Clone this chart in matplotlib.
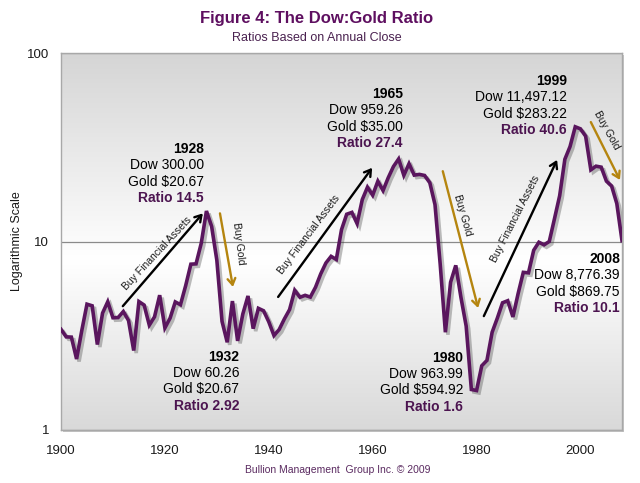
import numpy as np
import matplotlib
matplotlib.use('Agg')
import matplotlib.pyplot as plt
import matplotlib.patheffects as pe
from matplotlib.patches import Rectangle

plt.rcParams['font.family'] = ['Liberation Sans', 'DejaVu Sans']

# ---------------- data ----------------
years = list(range(1900, 2009))
ratio = [
    3.42, 3.12, 3.11, 2.38, 3.37, 4.65, 4.56, 2.84, 4.17, 4.79,   # 1900s
    3.94, 3.95, 4.25, 3.81, 2.64, 4.80, 4.60, 3.60, 3.98, 5.19,   # 1910s
    3.48, 3.92, 4.78, 4.62, 5.83, 7.58, 7.61, 9.79, 14.51, 12.02, # 1920s
    7.96, 3.77, 2.92, 4.83, 2.97, 4.12, 5.14, 3.45, 4.42, 4.29,   # 1930s
    3.75, 3.17, 3.41, 3.88, 4.35, 5.51, 5.06, 5.18, 5.07, 5.72,   # 1940s
    6.73, 7.69, 8.34, 8.03, 11.55, 13.95, 14.27, 12.45, 16.68, 19.41,  # 1950s
    17.60, 20.89, 18.63, 21.80, 24.98, 27.41, 22.45, 25.86, 22.5, 22.7, # 1960s
    22.4, 20.5, 15.7, 7.58, 3.30, 6.08, 7.47, 5.04, 3.56, 1.64,   # 1970s
    1.62, 2.19, 2.34, 3.30, 3.92, 4.73, 4.85, 3.98, 5.29, 6.86,   # 1980s
    6.82, 8.98, 9.91, 9.60, 10.0, 13.2, 17.5, 27.3, 31.9, 40.6,   # 1990s
    39.6, 36.2, 24.0, 25.1, 24.8, 20.9, 19.7, 15.9, 10.1,         # 2000s
]

x_ticks = [1900, 1920, 1940, 1960, 1980, 2000]
y_ticks = [1, 10, 100]
y_tick_labels = ['1', '10', '100']

title = 'Figure 4: The Dow:Gold Ratio'
subtitle = 'Ratios Based on Annual Close'
footer = 'Bullion Management  Group Inc. \u00a9 2009'
ylabel = 'Logarithmic Scale'

# annotation blocks: (anchor year, anchor value, lines)
blocks = [
    (1927.5, 30.9, ['1928', 'Dow 300.00', 'Gold $20.67', 'Ratio 14.5']),
    (1934.3, 2.44, ['1932', 'Dow 60.26', 'Gold $20.67', 'Ratio 2.92']),
    (1965.8, 60.6, ['1965', 'Dow 959.26', 'Gold $35.00', 'Ratio 27.4']),
    (1997.4, 71.0, ['1999', 'Dow 11,497.12', 'Gold $283.22', 'Ratio 40.6']),
    (1977.4, 2.41, ['1980', 'Dow 963.99', 'Gold $594.92', 'Ratio 1.6']),
    (2007.6, 8.07, ['2008', 'Dow 8,776.39', 'Gold $869.75', 'Ratio 10.1']),
]

# arrows: (tail, head, kind)
arrows = [
    ((1911.9, 4.54), (1927.3, 14.1), 'fin'),
    ((1930.6, 14.1), (1933.1, 5.74), 'gold'),
    ((1941.8, 5.08), (1959.9, 24.6), 'fin'),
    ((1973.5, 23.6), (1980.3, 4.44), 'gold'),
    ((1981.4, 4.02), (1995.5, 27.1), 'fin'),
    ((2002.0, 43.0), (2007.6, 21.2), 'gold'),
]
# arrow captions: (x, y, text, rotation)
captions = [
    (1918.5, 8.6, 'Buy Financial Assets', 47),
    (1934.1, 9.8, 'Buy Gold', -83),
    (1947.7, 10.9, 'Buy Financial Assets', 53),
    (1977.4, 13.8, 'Buy Gold', -74),
    (1987.4, 13.1, 'Buy Financial Assets', 63),
    (2005.1, 39.0, 'Buy Gold', -61),
]

# ---------------- style ----------------
line_color = '#5a165e'
purple_text = '#4c1450'
title_color = '#5e0f60'
gold_color = '#b5850f'

W, H = 640, 483
fig = plt.figure(figsize=(W / 100, H / 100), dpi=100)
fig.patch.set_facecolor('white')

L, R, T, B = 61, 622, 53, 430
pos = [L / W, 1 - B / H, (R - L) / W, (B - T) / H]

# shadow of plot area
fig.add_artist(Rectangle((pos[0] + 2 / W, pos[1] - 2 / H), pos[2], pos[3],
                         transform=fig.transFigure, facecolor='#c4c4c4',
                         edgecolor='none', zorder=-3))

# gradient background axes
bg = fig.add_axes(pos, zorder=-1)
t = np.linspace(0, 1, 300)
g = np.interp(t, [0, 0.55, 1], [0.835, 1.0, 0.85])
img = np.dstack([g, g, g]).reshape(300, 1, 3)
bg.imshow(img, aspect='auto', extent=[0, 1, 0, 1], interpolation='bilinear')
bg.set_axis_off()

ax = fig.add_axes(pos, zorder=1)
ax.patch.set_alpha(0)

ax.set_yscale('log')
ax.set_xlim(1900, 2008)
ax.set_ylim(1, 100)
ax.set_yticks(y_ticks)
ax.set_yticklabels(y_tick_labels)
ax.yaxis.set_minor_locator(matplotlib.ticker.NullLocator())
ax.set_xticks(x_ticks)
ax.set_xticklabels([str(v) for v in x_ticks])
ax.tick_params(length=0, labelsize=9.5, colors='#1a1a1a')
ax.tick_params(axis='y', pad=8.5)
ax.tick_params(axis='x', pad=11)
ax.grid(axis='y', which='major', color='#8a8a8a', lw=0.9)
ax.set_axisbelow(True)
for s in ax.spines.values():
    s.set_color('#a8a8a8')
    s.set_linewidth(1)

ax.set_ylabel(ylabel, fontsize=9, color='#1a1a1a')
ax.yaxis.set_label_coords(-0.067, 0.5)

ax.plot(years, ratio, color=line_color, lw=2.6, solid_joinstyle='miter',
        zorder=4,
        path_effects=[pe.SimpleLineShadow(offset=(1.8, -1.8), shadow_color='#444444', alpha=0.35),
                      pe.Normal()])

styles = [('bold', 'black'), ('normal', 'black'), ('normal', 'black'), ('bold', purple_text)]
for bx, by, lines in blocks:
    for i, (txt, (w, c)) in enumerate(zip(lines, styles)):
        ax.annotate(txt, xy=(bx, by), xytext=(0, -i * 11.7), textcoords='offset points',
                    ha='right', va='center', fontsize=10, fontweight=w, color=c,
                    parse_math=False, zorder=5)

for tail, head, kind in arrows:
    col = 'black' if kind == 'fin' else gold_color
    ax.annotate('', xy=head, xytext=tail,
                arrowprops=dict(arrowstyle='->,head_length=0.45,head_width=0.28',
                                color=col, lw=1.7, shrinkA=0, shrinkB=0),
                zorder=5)

for cx, cy, txt, rot in captions:
    ax.text(cx, cy, txt, rotation=rot, rotation_mode='anchor', ha='center', va='center',
            fontsize=7.5, color='#1a1a1a', zorder=5)

fig.text(0.495, 1 - 19 / H, title, ha='center', va='center', fontsize=12,
         fontweight='bold', color=title_color)
fig.text(0.495, 1 - 38 / H, subtitle, ha='center', va='center', fontsize=9,
         color='#4a2250')
fig.text(338 / W, 1 - 470 / H, footer, ha='center', va='center', fontsize=7.5,
         color='#5a2a60')

fig.savefig('out.png', dpi=100)
